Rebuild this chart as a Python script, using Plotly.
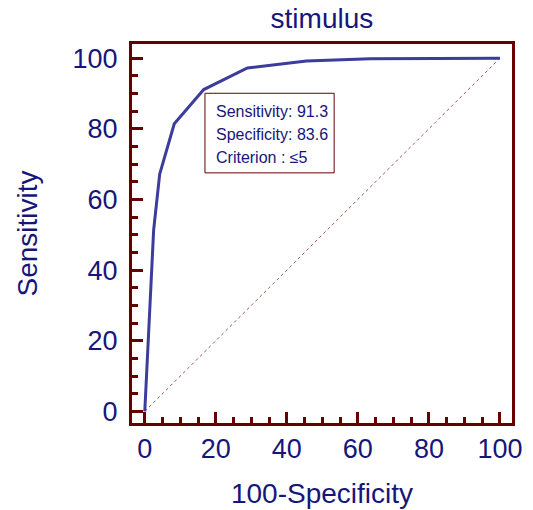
import plotly.graph_objects as go

# ROC curve points
fpr = [0, 2.5, 4.2, 8.3, 16.6, 28.9, 45.5, 63.5, 100]
tpr = [0, 51.4, 67.2, 81.4, 91.1, 97.2, 99.2, 99.8, 100]
diag_x = [0, 100]
diag_y = [0, 100]

title_text = "stimulus"
x_title = "100-Specificity"
y_title = "Sensitivity"
info_lines = ["Sensitivity: 91.3", "Specificity: 83.6", "Criterion : \u22645"]

frame = "#660000"
navy = "#16167a"
curve = "#3c3c9c"
font = "Liberation Sans, Arial, sans-serif"

fig = go.Figure()
fig.add_trace(go.Scatter(x=diag_x, y=diag_y, mode="lines",
                         line=dict(color="#9a5a5a", width=1, dash="dot"),
                         hoverinfo="skip", showlegend=False))
fig.add_trace(go.Scatter(x=fpr, y=tpr, mode="lines",
                         line=dict(color=curve, width=3),
                         showlegend=False))

axis_common = dict(
    showline=True, mirror=True, linecolor=frame, linewidth=3,
    showgrid=False, zeroline=False, automargin=False,
    ticks="inside", ticklen=11, tickwidth=3, tickcolor=frame,
    tick0=0, dtick=20,
    minor=dict(dtick=5, tick0=0, ticks="inside", ticklen=6, tickwidth=2.5,
               tickcolor=frame, showgrid=False),
    tickfont=dict(family=font, size=27, color=navy),
)

fig.update_xaxes(range=[-3.6, 103.4], ticklabelstandoff=0,
                 title=dict(text=x_title, font=dict(family=font, size=28, color=navy), standoff=20),
                 **axis_common)
fig.update_yaxes(range=[-3.3, 104.0], ticklabelstandoff=6,
                 title=dict(text=y_title, font=dict(family=font, size=28, color=navy), standoff=27),
                 **axis_common)

# info box
fig.add_shape(type="rect", xref="paper", yref="paper",
              x0=0.192, x1=0.532, y0=0.660, y1=0.870,
              line=dict(color=frame, width=1), fillcolor="white", layer="above")
ys = [0.822, 0.762, 0.701]
for t, yy in zip(info_lines, ys):
    fig.add_annotation(text=t, xref="paper", yref="paper", x=0.216, y=yy,
                       xanchor="left", yanchor="middle", showarrow=False,
                       font=dict(family=font, size=16, color=navy))

fig.update_layout(
    width=533, height=510,
    margin=dict(l=132, r=21, t=44, b=87),
    paper_bgcolor="white", plot_bgcolor="white",
    title=dict(text=title_text, x=0.604, xanchor="center", yref="container",
               y=1 - 18 / 510, yanchor="middle",
               font=dict(family=font, size=28, color=navy)),
)

fig.write_html("out.html", config={"displayModeBar": False},
               post_script="document.body.style.margin='0';")
